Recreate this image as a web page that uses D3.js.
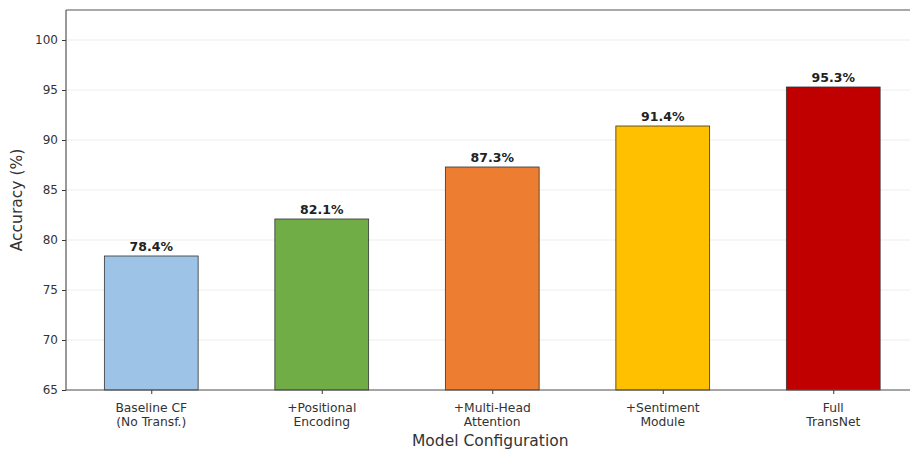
<!DOCTYPE html>
<html><head><meta charset="utf-8">
<script src="https://cdn.jsdelivr.net/npm/d3@7"></script>
<style>body{margin:0;background:#fff;} text{font-family:"DejaVu Sans",sans-serif;}</style>
</head><body><svg id="c" width="910" height="452"></svg>
<script>
const categories = [["Baseline CF","(No Transf.)"],["+Positional","Encoding"],["+Multi-Head","Attention"],["+Sentiment","Module"],["Full","TransNet"]];
const accuracy = [78.4, 82.1, 87.3, 91.4, 95.3];
const colors = ["#9dc3e6","#70ad47","#ed7d31","#ffc000","#c00000"];
const yTicks = [65,70,75,80,85,90,95,100];

const svg = d3.select("#c");
const pL = 66, pR = 918.5, pT = 10, pB = 390;
const x = d3.scaleLinear().domain([-0.5, 4.5]).range([pL, pR]);
const y = d3.scaleLinear().domain([65, 103]).range([pB, pT]);
const bw = x(0.275) - x(-0.275);

// grid
svg.append("g").selectAll("line").data(yTicks).join("line")
  .attr("x1", pL).attr("x2", 910).attr("y1", d=>y(d)).attr("y2", d=>y(d))
  .attr("stroke", "#e8e8e8").attr("stroke-width", 0.8);

svg.append("g").selectAll("rect").data(accuracy).join("rect")
  .attr("x", (d,i)=>x(i)-bw/2).attr("width", bw)
  .attr("y", d=>y(d)).attr("height", d=>y(65)-y(d))
  .attr("fill", (d,i)=>colors[i]).attr("stroke", "#333").attr("stroke-width", 0.8);

svg.append("g").selectAll("text").data(accuracy).join("text")
  .attr("x", (d,i)=>x(i)).attr("y", d=>y(d)-5)
  .attr("text-anchor","middle").attr("font-size", 12.5).attr("font-weight","bold").attr("fill","#222")
  .text(d=>d.toFixed(1)+"%");

// axes
const yAxis = d3.axisLeft(y).tickValues(yTicks).tickSize(4).tickPadding(4);
const gy = svg.append("g").attr("transform",`translate(${pL},0)`).call(yAxis);
gy.select(".domain").remove();
gy.selectAll("text").attr("font-size", 12).attr("fill","#333").style("font-family","DejaVu Sans");
gy.selectAll("line").attr("stroke","#333");

const xAxis = d3.axisBottom(x).tickValues(d3.range(categories.length)).tickSize(4).tickFormat("");
const gx = svg.append("g").attr("transform",`translate(0,${pB})`).call(xAxis);
gx.select(".domain").remove();
gx.selectAll("line").attr("stroke","#333");
const lbl = svg.append("g").selectAll("text").data(categories).join("text")
  .attr("x",(d,i)=>x(i)).attr("y", pB+22).attr("text-anchor","middle")
  .attr("font-size", 12.3).attr("fill","#333");
lbl.each(function(d){
  const t = d3.select(this);
  d.forEach((s,k)=>t.append("tspan").attr("x", t.attr("x")).attr("dy", k===0?0:14).text(s));
});

// spines
svg.append("line").attr("x1",pL).attr("x2",pL).attr("y1",pT).attr("y2",pB).attr("stroke","#555").attr("stroke-width",1.2);
svg.append("line").attr("x1",pL).attr("x2",910).attr("y1",pB).attr("y2",pB).attr("stroke","#555").attr("stroke-width",1.2);
svg.append("line").attr("x1",pL).attr("x2",910).attr("y1",pT).attr("y2",pT).attr("stroke","#555").attr("stroke-width",1.2);
svg.append("line").attr("x1",pR).attr("x2",pR).attr("y1",pT).attr("y2",pB).attr("stroke","#555").attr("stroke-width",1.2);

svg.append("text").attr("x", (pL+pR)/2-2).attr("y", 446).attr("text-anchor","middle")
  .attr("font-size", 15.5).attr("fill","#333").text("Model Configuration");
svg.append("text").attr("transform",`translate(22,${(pT+pB)/2}) rotate(-90)`).attr("text-anchor","middle")
  .attr("font-size", 15.5).attr("fill","#333").text("Accuracy (%)");
</script></body></html>
